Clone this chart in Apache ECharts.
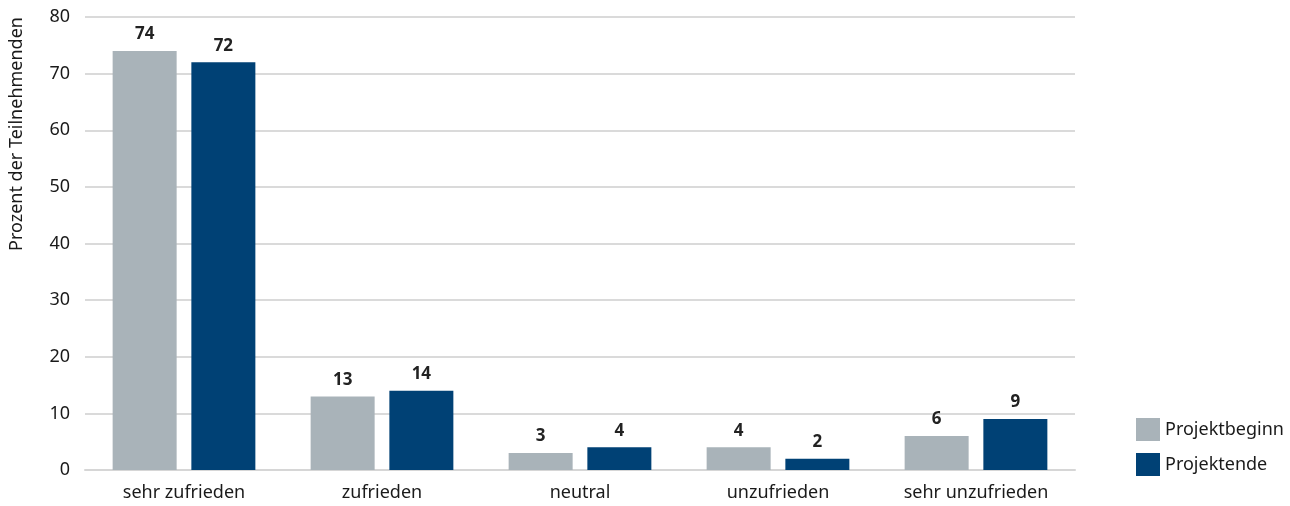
<!DOCTYPE html>
<html>
<head>
<meta charset="utf-8">
<script src="https://cdn.jsdelivr.net/npm/echarts@6/dist/echarts.min.js"></script>
<style>
  html, body { margin: 0; padding: 0; background: #ffffff; }
  #chart { width: 1290px; height: 506px; }
</style>
</head>
<body>
<div id="chart"></div>
<script>
// Zufriedenheit der Teilnehmenden zu Projektbeginn und Projektende (in Prozent)
const categories = ['sehr zufrieden', 'zufrieden', 'neutral', 'unzufrieden', 'sehr unzufrieden'];
const projektbeginn = [74, 13, 3, 4, 6];
const projektende = [72, 14, 4, 2, 9];
const seriesNames = ['Projektbeginn', 'Projektende'];
const yAxisTitle = 'Prozent der Teilnehmenden';

const FONT = '"Noto Sans", "Open Sans", sans-serif';
const GREY = '#a9b3b9';
const NAVY = '#004175';
const TEXT = '#1a1a1a';

const chart = echarts.init(document.getElementById('chart'), null, { renderer: 'canvas' });

const barLabel = {
  show: true,
  position: 'top',
  distance: 8,
  fontFamily: FONT,
  fontSize: 17,
  fontWeight: 'bold',
  color: '#222222'
};

chart.setOption({
  animation: false,
  backgroundColor: '#ffffff',
  textStyle: { fontFamily: FONT },
  grid: { left: 85, right: 215, top: 17, bottom: 36, containLabel: false },
  legend: {
    orient: 'vertical',
    left: 1131,
    top: 413,
    itemWidth: 24,
    itemHeight: 23,
    itemGap: 12,
    icon: 'rect',
    textStyle: { fontFamily: FONT, fontSize: 18, color: TEXT, padding: [0, 0, 0, 0] },
    data: seriesNames
  },
  xAxis: {
    type: 'category',
    data: categories,
    axisTick: { show: false },
    axisLine: { show: true, lineStyle: { color: '#d6d6d6', width: 2 } },
    axisLabel: { fontFamily: FONT, fontSize: 18, color: TEXT, margin: 14 }
  },
  yAxis: {
    type: 'value',
    min: 0,
    max: 80,
    interval: 10,
    axisLine: { show: false },
    axisTick: { show: false },
    axisLabel: { fontFamily: FONT, fontSize: 18, color: TEXT, margin: 15 },
    splitLine: { lineStyle: { color: '#dadada', width: 2 } }
  },
  graphic: [{
    type: 'text',
    rotation: Math.PI / 2,
    x: 8,
    y: 251,
    style: {
      text: yAxisTitle,
      fontFamily: FONT,
      fontSize: 18,
      fill: TEXT
    }
  }],
  series: [
    {
      name: seriesNames[0],
      type: 'bar',
      data: projektbeginn,
      barWidth: 64,
      barGap: '23%',
      itemStyle: { color: GREY },
      label: barLabel
    },
    {
      name: seriesNames[1],
      type: 'bar',
      data: projektende,
      barWidth: 64,
      barGap: '23%',
      itemStyle: { color: NAVY },
      label: barLabel
    }
  ]
});
</script>
</body>
</html>
